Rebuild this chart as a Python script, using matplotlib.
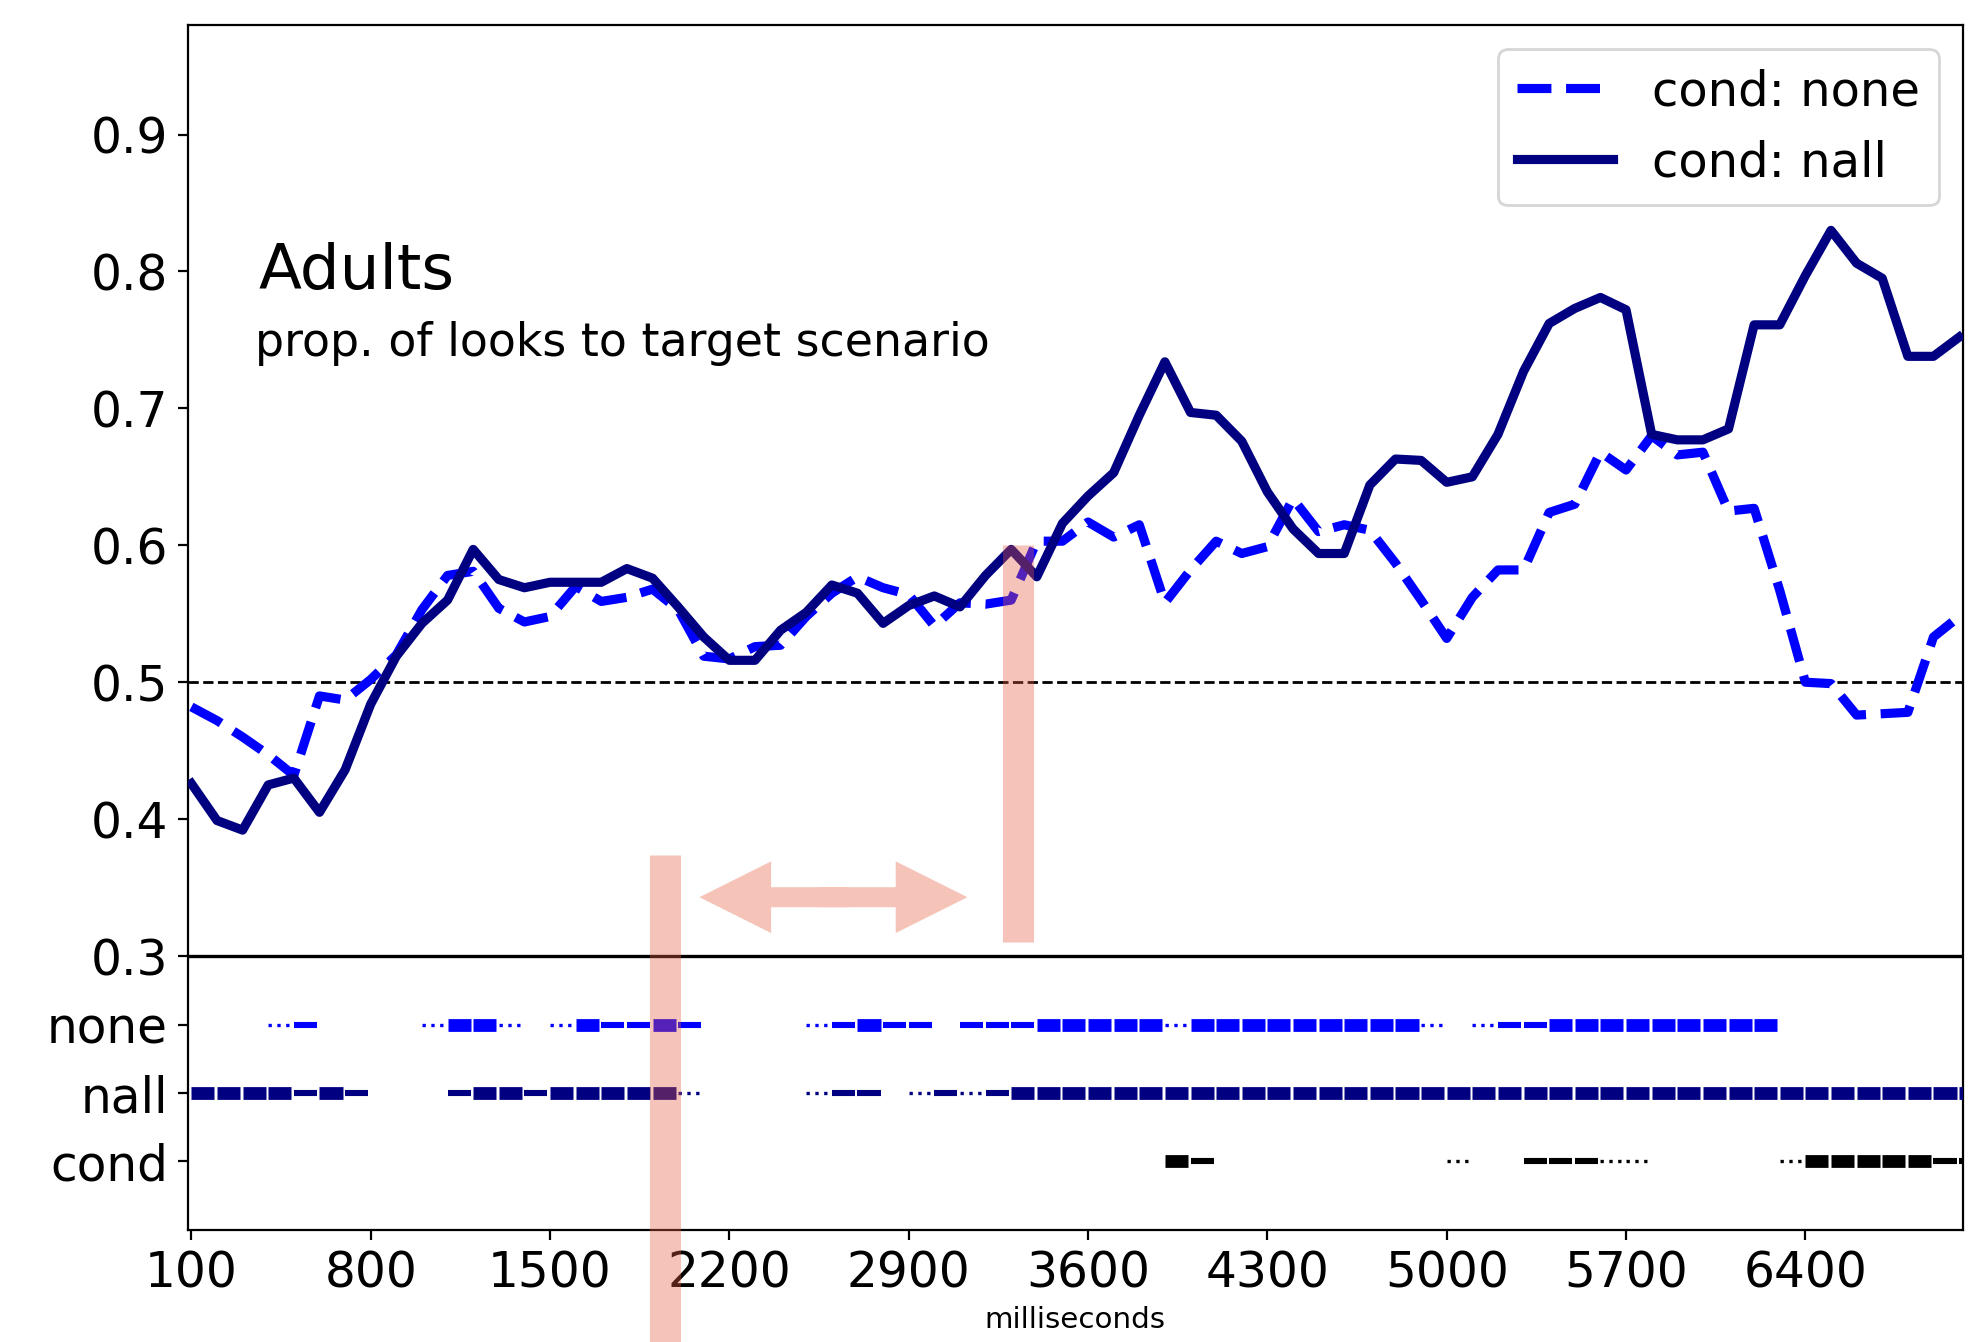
import numpy as np
import matplotlib
matplotlib.use("Agg")
import matplotlib.pyplot as plt
from matplotlib.patches import FancyArrowPatch, ArrowStyle

# time bins (ms)
time_ms = np.arange(100, 7001, 100)

# proportion of looks to the target scenario per condition
prop_none = [0.482, 0.472, 0.460, 0.447, 0.432, 0.490, 0.487, 0.502, 0.520, 0.553,
             0.578, 0.581, 0.554, 0.544, 0.548, 0.570, 0.559, 0.562, 0.568, 0.553,
             0.519, 0.517, 0.526, 0.527, 0.548, 0.565, 0.577, 0.569, 0.564, 0.541,
             0.558, 0.557, 0.560, 0.603, 0.603, 0.617, 0.606, 0.615, 0.558, 0.582,
             0.603, 0.594, 0.599, 0.634, 0.610, 0.615, 0.611, 0.587, 0.560, 0.532,
             0.562, 0.582, 0.582, 0.624, 0.630, 0.668, 0.655, 0.680, 0.666, 0.668,
             0.625, 0.627, 0.567, 0.500, 0.499, 0.476, 0.477, 0.478, 0.533, 0.548]

prop_nall = [0.426, 0.399, 0.392, 0.425, 0.430, 0.405, 0.436, 0.484, 0.519, 0.543,
             0.560, 0.597, 0.575, 0.569, 0.573, 0.573, 0.573, 0.583, 0.576, 0.555,
             0.533, 0.516, 0.516, 0.538, 0.551, 0.571, 0.565, 0.543, 0.556, 0.563,
             0.555, 0.578, 0.597, 0.577, 0.616, 0.636, 0.653, 0.695, 0.734, 0.697,
             0.695, 0.676, 0.639, 0.612, 0.594, 0.594, 0.644, 0.663, 0.662, 0.646,
             0.650, 0.681, 0.727, 0.762, 0.773, 0.781, 0.772, 0.681, 0.677, 0.677,
             0.685, 0.761, 0.761, 0.797, 0.830, 0.806, 0.795, 0.738, 0.738, 0.752]

# significance per bin: 0 = n.s., 1 = weak, 2 = moderate, 3 = strong
sig_none = [0, 0, 0, 1, 2, 0, 0, 0, 0, 1,
            3, 3, 1, 0, 1, 3, 2, 2, 3, 2,
            0, 0, 0, 0, 1, 2, 3, 2, 2, 0,
            2, 2, 2, 3, 3, 3, 3, 3, 1, 3,
            3, 3, 3, 3, 3, 3, 3, 3, 1, 0,
            1, 2, 2, 3, 3, 3, 3, 3, 3, 3,
            3, 3, 0, 0, 0, 0, 0, 0, 0, 0]

sig_nall = [3, 3, 3, 3, 2, 3, 2, 0, 0, 0,
            2, 3, 3, 2, 3, 3, 3, 3, 3, 1,
            0, 0, 0, 0, 1, 2, 2, 0, 1, 2,
            1, 2, 3, 3, 3, 3, 3, 3, 3, 3,
            3, 3, 3, 3, 3, 3, 3, 3, 3, 3,
            3, 3, 3, 3, 3, 3, 3, 3, 3, 3,
            3, 3, 3, 3, 3, 3, 3, 3, 3, 3]

sig_cond = [0, 0, 0, 0, 0, 0, 0, 0, 0, 0,
            0, 0, 0, 0, 0, 0, 0, 0, 0, 0,
            0, 0, 0, 0, 0, 0, 0, 0, 0, 0,
            0, 0, 0, 0, 0, 0, 0, 0, 3, 2,
            0, 0, 0, 0, 0, 0, 0, 0, 0, 1,
            0, 0, 2, 2, 2, 1, 1, 0, 0, 0,
            0, 0, 1, 3, 3, 3, 3, 3, 2, 2]

row_labels = ["none", "nall", "cond"]
row_levels = [0.25, 0.20, 0.15]
row_colors = ["blue", "navy", "black"]
row_sig = [sig_none, sig_nall, sig_cond]

x_ticks = [100, 800, 1500, 2200, 2900, 3600, 4300, 5000, 5700, 6400]
y_ticks = [0.3, 0.4, 0.5, 0.6, 0.7, 0.8, 0.9]

# marked time points (ms)
mark_left = 1948
mark_right = 3326
shift_from = 2083
shift_to = 3129

fig = plt.figure(figsize=(9.86, 6.71), dpi=200)
ax = fig.add_axes([0.0951, 0.0835, 0.9003, 0.8979])

ax.axhline(0.5, color="black", ls="--", lw=1.0, zorder=1)
ax.axhline(0.3, color="black", ls="-", lw=1.2, zorder=1)

ax.plot(time_ms, prop_none, ls="--", color="blue", lw=3.3, label="cond: none", zorder=3)
ax.plot(time_ms, prop_nall, ls="-", color="navy", lw=3.3, label="cond: nall", zorder=4)

seg_style = {1: dict(ls=":", lw=1.2), 2: dict(ls="-", lw=2.2), 3: dict(ls="-", lw=4.6)}
for level, color, sig in zip(row_levels, row_colors, row_sig):
    for t, s in zip(time_ms, sig):
        if s:
            ax.plot([t, t + 90], [level, level], color=color,
                    solid_capstyle="butt", dash_capstyle="butt", zorder=3,
                    **seg_style[s])

ax.text(362, 0.787, "Adults", fontsize=22.6, va="baseline")
ax.text(350, 0.7385, "prop. of looks to target scenario", fontsize=16.5, va="baseline")

# highlight bars and shift arrow
pink = (0.902, 0.361, 0.255)
ax.plot([mark_left, mark_left], [0.3735, -0.05], color=pink, alpha=0.37, lw=11.2,
        solid_capstyle="butt", clip_on=False, zorder=10)
ax.plot([mark_right, mark_right], [0.6, 0.3105], color=pink, alpha=0.37, lw=11.2,
        solid_capstyle="butt", zorder=10)
mid = (shift_from + shift_to) / 2
style = ArrowStyle.Simple(head_length=2.58, head_width=2.58, tail_width=0.72)
for start, end in ((mid + 60, shift_from), (mid - 60, shift_to)):
    ax.add_patch(FancyArrowPatch((start, 0.343), (end, 0.343), arrowstyle=style,
                                 mutation_scale=10, color="#f6c3b8", lw=0,
                                 shrinkA=0, shrinkB=0, zorder=5))

ax.set_xlim(85, 7015)
ax.set_ylim(0.1, 0.98)
ax.set_xticks(x_ticks)
ax.set_xticklabels([str(v) for v in x_ticks], fontsize=17.5)
ax.set_yticks(y_ticks + row_levels)
ax.set_yticklabels([f"{v:.1f}" for v in y_ticks] + row_labels, fontsize=17.5)
ax.set_xlabel("milliseconds", fontsize=10.6, labelpad=3)

ax.legend(loc="upper right", fontsize=17.3)

fig.savefig("out.png", dpi=200)
